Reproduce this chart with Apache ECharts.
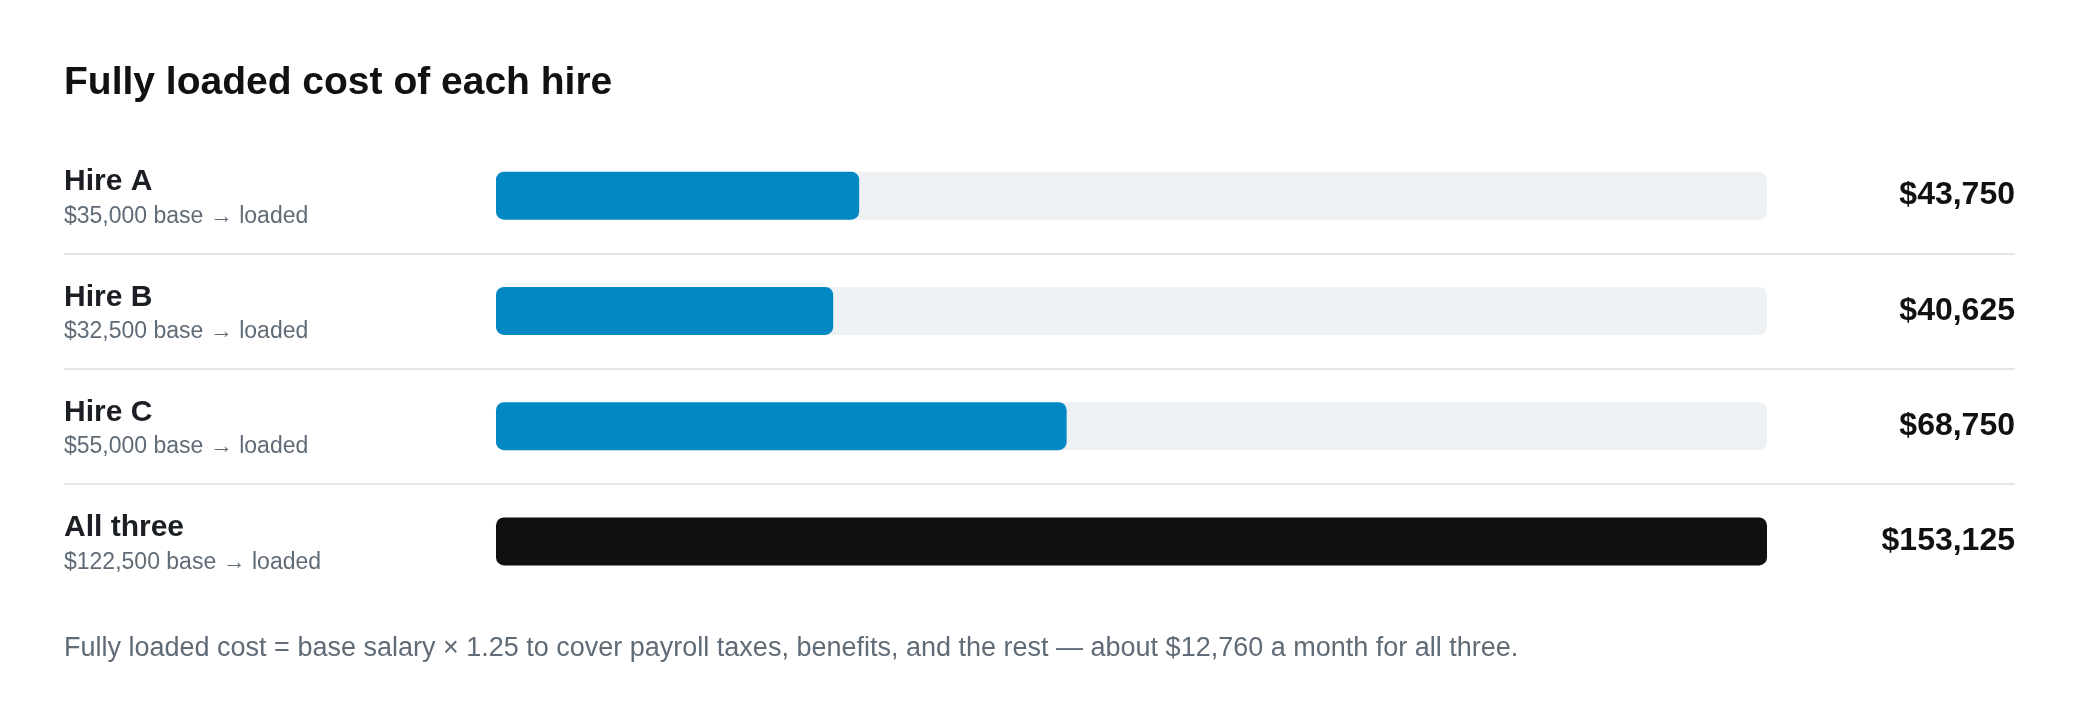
<!DOCTYPE html>
<html>
<head>
<meta charset="utf-8">
<title>Fully loaded cost of each hire</title>
<script src="https://cdn.jsdelivr.net/npm/echarts@6/dist/echarts.min.js"></script>
<style>
  html, body { margin: 0; padding: 0; background: #fff; }
  #chart { width: 2080px; height: 728px; }
</style>
</head>
<body>
<div id="chart"></div>
<script>
// data
const hires = ['Hire A', 'Hire B', 'Hire C', 'All three'];
const baseSalary = [35000, 32500, 55000, 122500];
const loadedCost = [43750, 40625, 68750, 153125];

const FONT = '"Liberation Sans", Arial, sans-serif';
const fmt = v => '$' + v.toLocaleString('en-US');

const chart = echarts.init(document.getElementById('chart'));

const option = {
  backgroundColor: '#fff',
  textStyle: { fontFamily: FONT },
  animation: false,
  title: [
    {
      text: 'Fully loaded cost of each hire',
      left: 64,
      top: 64,
      padding: 0,
      textStyle: { fontFamily: FONT, fontSize: 39, fontWeight: 'bold', color: '#111' }
    },
    {
      text: 'Fully loaded cost = base salary \u00d7 1.25 to cover payroll taxes, benefits, and the rest \u2014 about $12,760 a month for all three.',
      left: 64,
      top: 635,
      padding: 0,
      textStyle: { fontFamily: FONT, fontSize: 27, fontWeight: 'normal', color: '#5f6b77' }
    }
  ],
  grid: [
    // bars
    { left: 496, width: 1271, top: 138, height: 461 },
    // full-width row separators
    { left: 64, right: 65, top: 138, height: 461 }
  ],
  xAxis: [
    { gridIndex: 0, type: 'value', min: 0, max: Math.max(...loadedCost), show: false },
    { gridIndex: 1, type: 'value', min: 0, max: 1, show: false }
  ],
  yAxis: [
    {
      gridIndex: 0,
      type: 'category',
      data: hires,
      inverse: true,
      axisLine: { show: false },
      axisTick: { show: false },
      splitLine: { show: false },
      axisLabel: {
        align: 'left',
        margin: 432,
        padding: [7, 0, 0, 0],
        formatter: (v, i) => '{name|' + v + '}\n{sub|' + fmt(baseSalary[i]) + ' base \u2192 loaded}',
        rich: {
          name: { fontFamily: FONT, fontSize: 30, fontWeight: 'bold', color: '#1b1f23', lineHeight: 35 },
          sub: { fontFamily: FONT, fontSize: 23, color: '#5f6b77', lineHeight: 34 }
        }
      }
    },
    {
      gridIndex: 0,
      type: 'category',
      position: 'right',
      data: hires,
      inverse: true,
      axisLine: { show: false },
      axisTick: { show: false },
      splitLine: { show: false },
      axisLabel: {
        align: 'right',
        margin: 248,
        formatter: (v, i) => fmt(loadedCost[i]),
        fontFamily: FONT,
        fontSize: 32,
        fontWeight: 'bold',
        color: '#111'
      }
    },
    {
      gridIndex: 1,
      type: 'category',
      data: hires,
      inverse: true,
      axisLine: { show: false },
      axisTick: { show: false },
      axisLabel: { show: false },
      splitLine: {
        show: true,
        showMinLine: false,
        showMaxLine: false,
        lineStyle: { color: '#e3e7eb', width: 2 }
      }
    }
  ],
  series: [
    {
      type: 'bar',
      xAxisIndex: 0,
      yAxisIndex: 0,
      data: loadedCost,
      barWidth: 48,
      showBackground: true,
      backgroundStyle: { color: '#edf1f4', borderRadius: 8 },
      itemStyle: {
        borderRadius: 8,
        color: p => (p.dataIndex === hires.length - 1 ? '#0f1111' : '#0288c3')
      },
      silent: true
    }
  ]
};

chart.setOption(option);
window.addEventListener('resize', () => chart.resize());
</script>
</body>
</html>
